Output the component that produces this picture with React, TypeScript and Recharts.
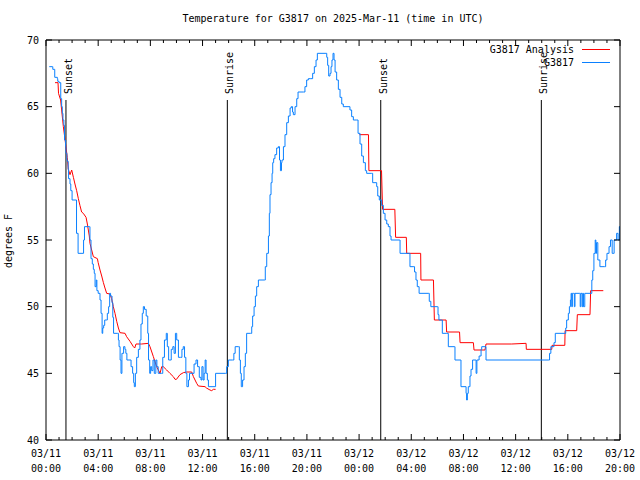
import React from 'react';
import { LineChart, Line, XAxis, YAxis, ReferenceLine } from 'recharts';

const obsHours = [
  0.25, 0.5, 0.52, 0.66, 0.67, 0.87, 0.9, 1.0, 1.13, 1.2, 1.25, 1.3, 1.37, 1.42, 1.5, 1.53, 1.6, 1.63, 1.7, 1.73,
  1.84, 1.9, 2.0, 2.3, 2.34, 2.46, 2.84, 2.88, 2.95, 3.32, 3.37, 3.45, 3.55, 3.63, 3.7, 3.76, 3.85, 3.9, 4.0, 4.14,
  4.22, 4.3, 4.35, 4.42, 4.5, 4.62, 4.7, 4.8, 4.88, 4.95, 5.06, 5.12, 5.18, 5.5, 5.55, 5.6, 5.68, 5.75, 5.82, 5.95,
  6.05, 6.12, 6.2, 6.44, 6.52, 6.64, 6.72, 6.77, 6.85, 6.95, 7.08, 7.2, 7.28, 7.38, 7.46, 7.55, 7.68, 7.8, 7.86, 7.95,
  8.02, 8.1, 8.2, 8.3, 8.42, 8.5, 8.6, 8.85, 8.95, 9.08, 9.22, 9.3, 9.4, 9.5, 9.6, 9.72, 9.82, 9.92, 10.02, 10.15,
  10.3, 10.42, 10.52, 10.62, 10.72, 10.8, 10.92, 11.0, 11.2, 11.35, 11.5, 11.62, 11.75, 11.88, 11.95, 12.04, 12.12, 12.2, 12.27, 12.37,
  12.45, 12.96, 13.0, 13.75, 13.85, 13.98, 14.3, 14.4, 14.5, 14.75, 14.82, 14.9, 14.97, 15.07, 15.18, 15.28, 15.38, 15.68, 15.77, 15.84,
  15.95, 16.05, 16.15, 16.28, 16.74, 16.81, 16.92, 17.05, 17.12, 17.17, 17.25, 17.33, 17.38, 17.45, 17.55, 17.68, 17.81, 17.9, 17.97, 18.05,
  18.09, 18.2, 18.32, 18.45, 18.58, 18.71, 18.8, 18.9, 18.96, 19.09, 19.22, 19.32, 19.73, 19.85, 19.98, 20.11, 20.3, 20.44, 20.57, 20.7,
  20.8, 21.46, 21.52, 21.59, 21.67, 21.77, 21.85, 21.92, 22.0, 22.08, 22.16, 22.28, 22.41, 22.54, 22.67, 22.79, 23.23, 23.3, 23.43, 23.56,
  23.82, 23.92, 24.07, 24.2, 24.33, 24.48, 24.58, 24.97, 25.04, 25.35, 25.43, 25.55, 25.73, 25.86, 25.99, 26.12, 26.24, 26.37, 26.45, 27.1,
  27.14, 27.85, 27.9, 28.2, 28.25, 28.36, 28.46, 28.6, 29.3, 29.38, 29.5, 30.0, 30.05, 30.12, 30.33, 30.38, 30.72, 30.84, 31.3, 31.35,
  31.74, 31.81, 32.12, 32.2, 32.24, 32.3, 32.37, 32.5, 32.58, 32.7, 32.9, 32.97, 33.03, 33.2, 33.35, 33.4, 33.65, 33.73, 38.5, 38.6,
  38.7, 38.94, 39.04, 39.79, 39.84, 39.91, 40.04, 40.12, 40.2, 40.25, 40.3, 40.35, 40.45, 40.5, 40.55, 40.9, 40.95, 41.0, 41.1, 41.15,
  41.2, 41.3, 41.7, 41.84, 41.91, 42.0, 42.1, 42.15, 42.2, 42.3, 42.46, 42.8, 42.9, 43.0, 43.16, 43.27, 43.4, 43.47, 43.55, 43.74,
  43.85, 43.95, 44.0,
];
const obsTemps = [
  68, 68, 67.8, 67.8, 67.2, 67.1, 66.9, 66.8, 65.6, 65, 64.5, 64, 63.6, 62.5, 62, 61.5, 61, 60.9, 60.3, 59.6,
  59.2, 58.7, 58, 58, 55.5, 54, 54, 55, 56, 56, 55, 53.6, 53.2, 52.8, 52.5, 51.5, 52, 51.2, 51, 50.5,
  49.5, 48, 48.4, 48.6, 49, 49, 49.5, 50, 51, 50.8, 50.3, 49.2, 48, 48, 47.5, 47, 46, 45, 46.5, 47,
  46.8, 46.5, 46, 46, 45.5, 45, 44.3, 44, 45, 46.2, 46.8, 47.5, 48.7, 49.5, 50, 49.8, 49.3, 48, 46, 45,
  45.5, 45.2, 46, 45, 46, 45.5, 45, 45, 46.2, 47.5, 48, 47, 46, 46, 46.8, 47, 46.5, 48, 47.5, 46.2,
  46.2, 46.8, 47, 46.2, 45, 44, 44.5, 45, 45, 45.7, 46, 45.5, 44.7, 44.5, 45.5, 44.5, 45, 46, 45, 44.5,
  44, 44, 45, 45, 45.5, 46, 46, 46.5, 47, 47, 46, 45, 44, 44.5, 45.5, 46.5, 48, 48, 48.5, 49.3,
  50, 50.8, 51.5, 52, 52, 53, 54, 55.3, 57, 58.4, 59.3, 60, 60.8, 61.1, 61.4, 61.9, 62, 61, 60.2, 60.8,
  61, 62, 62.9, 63.8, 64.3, 64.9, 65, 64.6, 64.4, 65, 65.6, 66.1, 66.1, 66.5, 67, 67.1, 67.1, 67.5, 68, 68.5,
  69, 69, 68.7, 68.1, 67.3, 67.5, 68, 68.5, 69, 68.5, 67.6, 67, 66.3, 65.7, 65.2, 65, 65, 64.75, 64.25, 64,
  64, 63, 62.2, 61.3, 60.8, 60.2, 60, 60, 59.3, 59, 58.3, 58, 57.6, 57, 56.5, 56.2, 56, 55.3, 55, 55,
  54, 54, 53, 53, 52.6, 52, 51.5, 51, 51, 50.4, 50, 50, 49.4, 49, 49, 48, 48, 47, 47, 46,
  46, 44, 44, 43.5, 43, 43.5, 44, 44.8, 45.3, 46, 46, 45, 46, 46.3, 46.8, 47, 47, 46, 46, 46.5,
  47, 47.3, 48, 48, 48.4, 49, 49.5, 50, 50.5, 51, 50, 51, 51, 50, 51, 51, 50, 51, 50, 51,
  50, 51, 51, 52, 52.7, 54, 55, 54, 54.8, 53.5, 53, 53, 53.5, 54, 54.5, 55, 54, 54, 55, 55.5,
  55, 56, 55,
];

const anaHours = [
  0.69, 0.92, 0.96, 1.12, 1.33, 1.53, 1.63, 1.71, 1.84, 1.97, 2.1, 2.22, 2.35, 2.48, 2.6, 2.73, 2.86, 3.07, 3.17, 3.32,
  3.37, 3.5, 3.63, 3.94, 4.0, 4.14, 4.27, 4.4, 4.52, 4.65, 4.9, 5.03, 5.16, 5.29, 5.42, 5.55, 5.67, 6.06, 6.18, 6.44,
  6.7, 6.8, 6.9, 7.33, 7.85, 7.97, 8.23, 8.48, 8.74, 8.87, 8.99, 9.25, 9.5, 9.76, 9.89, 10.0, 10.27, 10.53, 10.78, 11.17,
  11.3, 11.55, 11.68, 12.19, 12.3, 12.57, 12.7, 12.83, 13.0, 18.0,
  24.02, 24.72, 24.75, 25.72, 25.8, 26.74, 26.8, 27.62, 27.65, 28.72, 28.74, 29.7, 29.77, 30.67, 30.71, 31.7, 31.74, 32.76, 32.81, 33.65,
  33.73, 35.7, 36.8, 36.82, 38.77, 38.79, 39.77, 39.79, 40.68, 40.73, 41.7, 41.75, 42.72,
];
const anaTemps: (number | null)[] = [
  66.8, 66.8, 66, 65.5, 63.5, 62, 61.2, 60.3, 59.9, 60.25, 59.7, 59.2, 58.7, 58.1, 57.6, 57.1, 57, 56.7, 56.2, 55.3,
  54.75, 54.25, 53.75, 53.6, 53.3, 52.75, 52.3, 51.8, 51.4, 51, 50.95, 50.6, 50, 49.5, 48.9, 48.4, 48.05, 48, 47.75, 47.4,
  47, 46.9, 47.2, 47.2, 47.25, 47, 46.25, 45.5, 45, 45.5, 45.5, 45.25, 45, 44.75, 44.55, 44.55, 44.9, 45.05, 45.1, 45.1,
  44.75, 44.25, 44.05, 44, 43.9, 43.75, 43.7, 43.8, 43.8, null,
  62.9, 62.9, 60.2, 60.2, 57.3, 57.3, 55.2, 55.2, 54, 54, 52, 52, 49, 49, 48.1, 48.1, 47.3, 47.3, 46.75, 46.75,
  47.2, 47.2, 47.25, 46.8, 46.8, 47.1, 47.1, 48.2, 48.2, 49.4, 49.4, 51.2, 51.2,
];

const hourTicks = [
  0, 1, 2, 3, 4, 5, 6, 7, 8, 9, 10, 11, 12, 13, 14, 15, 16, 17, 18, 19, 20, 21, 22,
  23, 24, 25, 26, 27, 28, 29, 30, 31, 32, 33, 34, 35, 36, 37, 38, 39, 40, 41, 42, 43, 44,
];
const dateLabels = ['03/11', '03/11', '03/11', '03/11', '03/11', '03/11', '03/12', '03/12', '03/12', '03/12', '03/12', '03/12'];
const timeLabels = ['00:00', '04:00', '08:00', '12:00', '16:00', '20:00', '00:00', '04:00', '08:00', '12:00', '16:00', '20:00'];
const tempTicks = [40, 45, 50, 55, 60, 65, 70];

const eventHours = [1.53, 13.9, 25.66, 37.97];
const eventNames = ['Sunset', 'Sunrise', 'Sunset', 'Sunrise'];
const eventTop = 65.5;

const seriesNames = ['G3817 Analysis', 'G3817'];
const seriesColors = ['#ff0000', '#0a80ff'];

const FONT = "'DejaVu Sans Mono', 'Liberation Mono', monospace";

const obsData = obsHours.map((h, i) => ({ h, t: obsTemps[i] }));
const anaData = anaHours.map((h, i) => ({ h, t: anaTemps[i] }));

const BottomTick = (props: any) => {
  const { x, y, payload } = props;
  const v = payload.value as number;
  const major = v % 4 === 0;
  const idx = v / 4;
  return (
    <g>
      <line x1={x} x2={x} y1={y} y2={y - (major ? 6 : 3)} stroke="#000" />
      {major && (
        <text x={x} y={y + 17} textAnchor="middle" fontFamily={FONT} fontSize={10} fill="#000">
          {dateLabels[idx]}
        </text>
      )}
      {major && (
        <text x={x} y={y + 32} textAnchor="middle" fontFamily={FONT} fontSize={10} fill="#000">
          {timeLabels[idx]}
        </text>
      )}
    </g>
  );
};

const TopTick = (props: any) => {
  const { x, y, payload } = props;
  const major = (payload.value as number) % 4 === 0;
  return <line x1={x} x2={x} y1={y} y2={y + (major ? 6 : 3)} stroke="#000" />;
};

const LeftTick = (props: any) => {
  const { x, y, payload } = props;
  return (
    <g>
      <line x1={x} x2={x + 6} y1={y} y2={y} stroke="#000" />
      <text x={x - 7} y={y} textAnchor="end" dominantBaseline="central" fontFamily={FONT} fontSize={10} fill="#000">
        {payload.value}
      </text>
    </g>
  );
};

const RightTick = (props: any) => {
  const { x, y } = props;
  return <line x1={x} x2={x - 6} y1={y} y2={y} stroke="#000" />;
};

const eventLabel = (name: string) => (p: any) => {
  const vb = p.viewBox || {};
  const cx = vb.x + 2.5;
  const cy = vb.y - 6;
  return (
    <text
      x={cx}
      y={cy}
      transform={`rotate(-90, ${cx}, ${cy})`}
      textAnchor="start"
      dominantBaseline="central"
      fontFamily={FONT}
      fontSize={10}
      fill="#000"
    >
      {name}
    </text>
  );
};

const textStyle: React.CSSProperties = { fontFamily: FONT, fontSize: 10, lineHeight: '12px', color: '#000', whiteSpace: 'pre' };

export default function App() {
  return (
    <div style={{ position: 'absolute', left: 0, top: 0, width: 640, height: 480, background: '#fff' }}>
      <LineChart width={640} height={480} margin={{ top: 39, right: 19, bottom: 39, left: 45 }}>
        <XAxis
          dataKey="h" type="number" domain={[0, 44]} ticks={hourTicks} interval={0}
          height={1} tickSize={0} tickMargin={0} tickLine={false} tick={<BottomTick />}
          axisLine={{ stroke: '#000' }} allowDataOverflow
        />
        <XAxis
          xAxisId="top" orientation="top" dataKey="h" type="number" domain={[0, 44]} ticks={hourTicks} interval={0}
          height={1} tickSize={0} tickMargin={0} tickLine={false} tick={<TopTick />}
          axisLine={{ stroke: '#000' }} allowDataOverflow
        />
        <YAxis
          type="number" domain={[40, 70]} ticks={tempTicks} interval={0} width={1}
          tickSize={0} tickMargin={0} tickLine={false} tick={<LeftTick />}
          axisLine={{ stroke: '#000' }} allowDataOverflow
        />
        <YAxis
          yAxisId="right" orientation="right" type="number" domain={[40, 70]} ticks={tempTicks} interval={0} width={1}
          tickSize={0} tickMargin={0} tickLine={false} tick={<RightTick />}
          axisLine={{ stroke: '#000' }} allowDataOverflow
        />
        {eventHours.map((h, i) => (
          <ReferenceLine
            key={i}
            segment={[{ x: h, y: 40 }, { x: h, y: eventTop }]}
            stroke="#000"
            strokeWidth={1}
            label={eventLabel(eventNames[i])}
          />
        ))}
        <Line
          data={anaData} dataKey="t" name={seriesNames[0]} stroke={seriesColors[0]} strokeWidth={1}
          dot={false} activeDot={false} isAnimationActive={false} type="linear" connectNulls={false}
        />
        <Line
          data={obsData} dataKey="t" name={seriesNames[1]} stroke={seriesColors[1]} strokeWidth={1}
          dot={false} activeDot={false} isAnimationActive={false} type="stepAfter"
        />
      </LineChart>
      <div style={{ ...textStyle, position: 'absolute', left: 0, width: 666, top: 13, textAlign: 'center' }}>
        Temperature for G3817 on 2025-Mar-11 (time in UTC)
      </div>
      <div
        style={{
          ...textStyle, position: 'absolute', left: -21, top: 235, width: 60, textAlign: 'center',
          transform: 'rotate(-90deg)',
        }}
      >
        degrees F
      </div>
      {seriesNames.map((n, i) => (
        <React.Fragment key={n}>
          <div style={{ ...textStyle, position: 'absolute', right: 66, top: 44 + i * 12.5, textAlign: 'right' }}>{n}</div>
          <div
            style={{
              position: 'absolute', left: 582, width: 28, height: 1, top: 49 + i * 12.5,
              background: seriesColors[i],
            }}
          />
        </React.Fragment>
      ))}
    </div>
  );
}
